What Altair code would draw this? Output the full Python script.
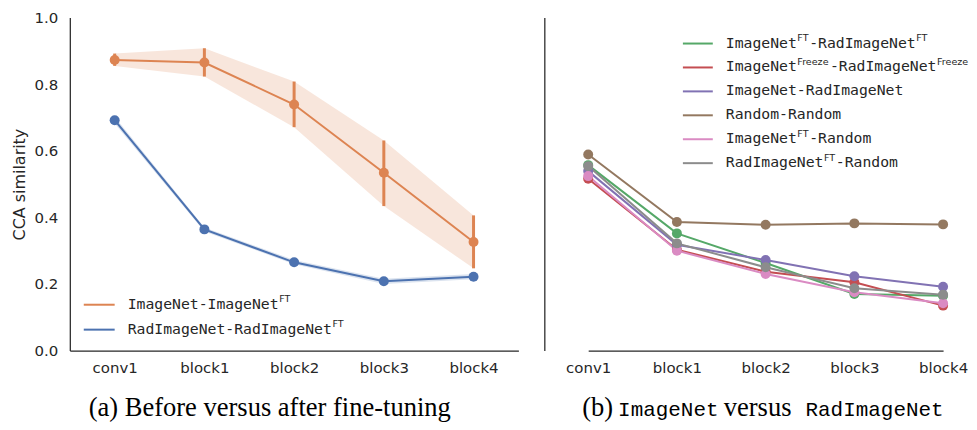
import re
import altair as alt
import pandas as pd

# ---------------- data ----------------
categories = ["conv1", "block1", "block2", "block3", "block4"]

# panel (a): before vs after fine-tuning
a_series = ["ImageNet-ImageNet^{FT}", "RadImageNet-RadImageNet^{FT}"]
a_colors = ["#DD8452", "#4C72B0"]
in_ft_mean = [0.873, 0.865, 0.739, 0.534, 0.326]
in_ft_low = [0.855, 0.823, 0.671, 0.434, 0.247]
in_ft_high = [0.892, 0.908, 0.808, 0.631, 0.406]
rad_ft_mean = [0.692, 0.364, 0.265, 0.208, 0.222]
rad_ft_low = [0.682, 0.358, 0.259, 0.200, 0.214]
rad_ft_high = [0.702, 0.370, 0.272, 0.216, 0.230]

# panel (b): ImageNet vs RadImageNet
b_series = [
    "ImageNet^{FT}-RadImageNet^{FT}",
    "ImageNet^{Freeze}-RadImageNet^{Freeze}",
    "ImageNet-RadImageNet",
    "Random-Random",
    "ImageNet^{FT}-Random",
    "RadImageNet^{FT}-Random",
]
b_colors = ["#55A868", "#C44E52", "#8172B3", "#937860", "#DA8BC3", "#8C8C8C"]
inft_radft = [0.557, 0.352, 0.263, 0.170, 0.165]
infreeze_radfreeze = [0.516, 0.303, 0.237, 0.205, 0.135]
in_rad = [0.539, 0.318, 0.272, 0.223, 0.192]
random_random = [0.589, 0.386, 0.378, 0.382, 0.379]
inft_random = [0.524, 0.300, 0.230, 0.175, 0.142]
radft_random = [0.554, 0.322, 0.250, 0.187, 0.168]
b_values = [inft_radft, infreeze_radfreeze, in_rad, random_random, inft_random, radft_random]

y_ticks = [0.0, 0.2, 0.4, 0.6, 0.8, 1.0]

# ---------------- tables ----------------
df_a = pd.DataFrame({
    "layer": categories * 2,
    "series": [a_series[0]] * 5 + [a_series[1]] * 5,
    "mean": in_ft_mean + rad_ft_mean,
    "low": in_ft_low + rad_ft_low,
    "high": in_ft_high + rad_ft_high,
})
df_b = pd.DataFrame({
    "layer": categories * len(b_series),
    "series": [s for s in b_series for _ in categories],
    "value": [v for vals in b_values for v in vals],
})

W_A, W_B, H = 450, 425, 334
AXIS_COLOR = "#262626"
MONO = "DejaVu Sans Mono"
SANS = "DejaVu Sans"

SANS_W = {"F": 0.575, "T": 0.611, "r": 0.411, "e": 0.615, "z": 0.525}


def parse(label):
    parts = []
    for m in re.finditer(r"\^\{([^}]*)\}|([^\^]+)", label):
        if m.group(1) is not None:
            parts.append((m.group(1), True))
        else:
            parts.append((m.group(2), False))
    return parts


def legend_layers(labels, colors, xl0, xl1, xt, y0, dy, fs=14.8, fs_sup=9.6):
    lines, main, sup = [], [], []
    for i, (lab, col) in enumerate(zip(labels, colors)):
        y = y0 + i * dy
        lines.append({"x": xl0, "x2": xl1, "y": y, "c": col})
        x = xt
        for seg, is_sup in parse(lab):
            if is_sup:
                sup.append({"x": x + 0.5, "y": y - 5.5, "t": seg})
                x += sum(SANS_W.get(ch, 0.6) for ch in seg) * fs_sup + 1
            else:
                main.append({"x": x, "y": y, "t": seg})
                x += len(seg) * 0.6021 * fs
    ln = alt.Chart(pd.DataFrame(lines)).mark_rule(strokeWidth=2).encode(
        x=alt.X("x:Q", scale=None), x2="x2:Q", y=alt.Y("y:Q", scale=None),
        color=alt.Color("c:N", scale=None))
    tm = alt.Chart(pd.DataFrame(main)).mark_text(
        align="left", baseline="middle", font=MONO, fontSize=fs, color="#262626").encode(
        x=alt.X("x:Q", scale=None), y=alt.Y("y:Q", scale=None), text="t:N")
    ts = alt.Chart(pd.DataFrame(sup)).mark_text(
        align="left", baseline="middle", font=SANS, fontSize=fs_sup, color="#262626").encode(
        x=alt.X("x:Q", scale=None), y=alt.Y("y:Q", scale=None), text="t:N")
    return [ln, tm, ts]


y_enc_scale = alt.Scale(domain=[0, 1], nice=False)

# ---------------- panel (a) ----------------
xa = alt.X("layer:N", sort=categories, scale=alt.Scale(type="point", padding=0.5),
           axis=alt.Axis(title=None, labelAngle=0, labelPadding=10))
ca = alt.Color("series:N", scale=alt.Scale(domain=a_series, range=a_colors), legend=None)
ya_axis = alt.Axis(title="CCA similarity", values=y_ticks, format=".1f", labelPadding=12,
                   titlePadding=7)

base_a = alt.Chart(df_a)
band_a = base_a.mark_area(opacity=0.2).encode(
    x=xa, y=alt.Y("low:Q", scale=y_enc_scale, axis=ya_axis), y2="high:Q", color=ca)
line_a = base_a.mark_line(strokeWidth=2).encode(x=xa, y=alt.Y("mean:Q"), color=ca)
err_a = base_a.mark_rule(strokeWidth=3).encode(x=xa, y="low:Q", y2="high:Q", color=ca)
pts_a = base_a.mark_circle(size=100, opacity=1).encode(x=xa, y="mean:Q", color=ca)

cap_a = alt.Chart(pd.DataFrame({"t": ["(a) Before versus after fine-tuning"]})).mark_text(
    align="left", baseline="alphabetic", font="Liberation Serif", fontSize=26.6,
    color="#000000").encode(text="t:N", x=alt.value(19), y=alt.value(400))

left = alt.layer(band_a, line_a, err_a, pts_a, cap_a,
                 *legend_layers(a_series, a_colors, 14, 45, 58, 288, 25)).properties(
    width=W_A, height=H)

# ---------------- panel (b) ----------------
xb = alt.X("layer:N", sort=categories, scale=alt.Scale(type="point", padding=0, range=[44, 400]),
           axis=alt.Axis(title=None, labelAngle=0, labelPadding=10))
cb = alt.Color("series:N", sort=b_series, scale=alt.Scale(domain=b_series, range=b_colors), legend=None)
yb_axis = alt.Axis(title=None, labels=False, ticks=False, values=y_ticks)

base_b = alt.Chart(df_b)
line_b = base_b.mark_line(strokeWidth=2).encode(
    x=xb, y=alt.Y("value:Q", scale=y_enc_scale, axis=yb_axis), color=cb)
pts_b = base_b.mark_circle(size=100, opacity=1).encode(x=xb, y="value:Q", color=cb)

cap_b_df = pd.DataFrame({
    "t": ["(b)", "ImageNet", "versus", "RadImageNet"],
    "x": [38, 74, 180, 262],
    "f": ["serif", "mono", "serif", "mono"],
})
cap_b_serif = alt.Chart(cap_b_df[cap_b_df.f == "serif"]).mark_text(
    align="left", baseline="alphabetic", font="Liberation Serif", fontSize=26.6, color="#000000").encode(
    text="t:N", x=alt.X("x:Q", scale=None), y=alt.value(400))
cap_b_mono = alt.Chart(cap_b_df[cap_b_df.f == "mono"]).mark_text(
    align="left", baseline="alphabetic", font="Liberation Mono", fontSize=21, color="#000000").encode(
    text="t:N", x=alt.X("x:Q", scale=None), y=alt.value(400))

right = alt.layer(line_b, pts_b, cap_b_serif, cap_b_mono,
                  *legend_layers(b_series, b_colors, 139, 169, 182, 26, 24)).properties(
    width=W_B, height=H)

chart = alt.hconcat(left, right, spacing=26).resolve_scale(color="independent").properties(
    padding={"left": 3, "top": 2, "right": 0, "bottom": 0}
).configure_view(stroke=None).configure_axis(
    labelFont=SANS, labelFontSize=15, labelColor=AXIS_COLOR,
    titleFont=SANS, titleFontSize=16, titleFontWeight="normal", titleColor=AXIS_COLOR,
    domainColor=AXIS_COLOR, domainWidth=1.25, ticks=False, grid=False,
)

chart.save("out.html", embed_options={"renderer": "svg", "actions": False})
